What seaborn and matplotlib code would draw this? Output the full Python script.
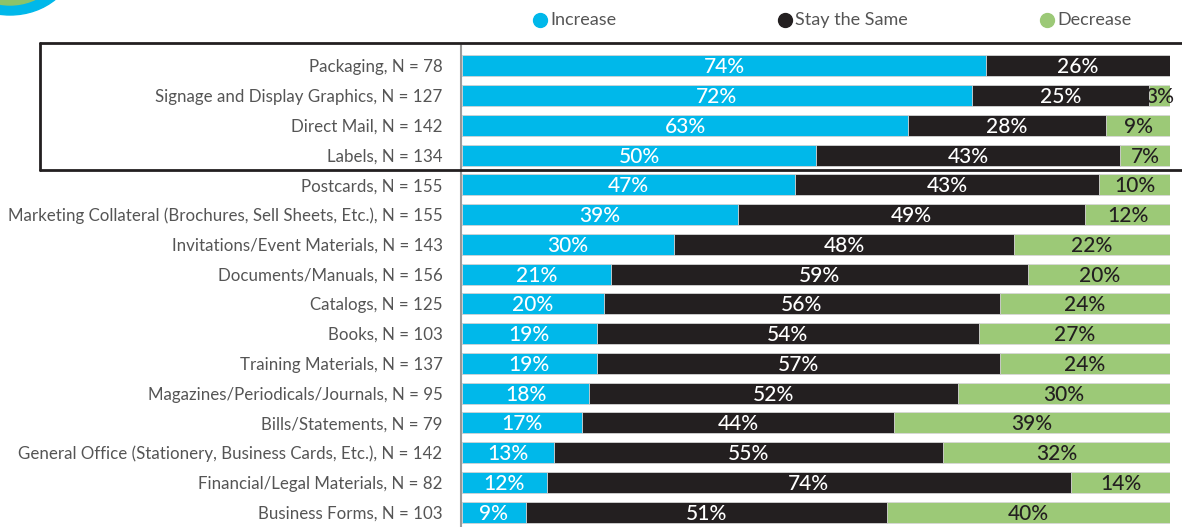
import matplotlib
matplotlib.use("Agg")
import matplotlib.pyplot as plt
from matplotlib import font_manager
from matplotlib.lines import Line2D
from matplotlib.patches import Ellipse
import seaborn as sns
import pandas as pd
import numpy as np

categories = [
    "Packaging, N = 78",
    "Signage and Display Graphics, N = 127",
    "Direct Mail, N = 142",
    "Labels, N = 134",
    "Postcards, N = 155",
    "Marketing Collateral (Brochures, Sell Sheets, Etc.), N = 155",
    "Invitations/Event Materials, N = 143",
    "Documents/Manuals, N = 156",
    "Catalogs, N = 125",
    "Books, N = 103",
    "Training Materials, N = 137",
    "Magazines/Periodicals/Journals, N = 95",
    "Bills/Statements, N = 79",
    "General Office (Stationery, Business Cards, Etc.), N = 142",
    "Financial/Legal Materials, N = 82",
    "Business Forms, N = 103",
]
increase = [74, 72, 63, 50, 47, 39, 30, 21, 20, 19, 19, 18, 17, 13, 12, 9]
stay_same = [26, 25, 28, 43, 43, 49, 48, 59, 56, 54, 57, 52, 44, 55, 74, 51]
decrease = [0, 3, 9, 7, 10, 12, 22, 20, 24, 27, 24, 30, 39, 32, 14, 40]
series_names = ["Increase", "Stay the Same", "Decrease"]

C_INC = "#00B8EA"
C_SAME = "#231F20"
C_DEC = "#9CC977"
C_TXT = "#555555"

sns.set_theme(style="white")
names = {f.name for f in font_manager.fontManager.ttflist}
fam = "Liberation Sans Narrow" if "Liberation Sans Narrow" in names else "Lato"
plt.rcParams["font.family"] = [fam, "DejaVu Sans"]

df = pd.DataFrame({"cat": categories, "inc": increase, "same": stay_same, "dec": decrease})
df["c2"] = df["inc"] + df["same"]
df["c3"] = df["c2"] + df["dec"]

fig = plt.figure(figsize=(11.82, 5.27), dpi=100)
W, H = 1182, 527
ax = fig.add_axes([462 / W, 0, (1170 - 462) / W, (527 - 51) / H])

kw = dict(y="cat", orient="h", width=0.7, edgecolor="#D8D8D8", linewidth=0.6, ax=ax, order=categories)
sns.barplot(data=df, x="c3", color=C_DEC, saturation=1, **kw)
sns.barplot(data=df, x="c2", color=C_SAME, saturation=1, **kw)
sns.barplot(data=df, x="inc", color=C_INC, saturation=1, **kw)

ax.set_xlim(0, 100)
ax.set_ylim(len(categories) - 0.5, -0.5)
ax.set_xlabel("")
ax.set_ylabel("")
ax.set_xticks([])
for s in ax.spines.values():
    s.set_visible(False)
ax.tick_params(axis="y", length=0, pad=14, labelsize=12.2, labelcolor=C_TXT)

pct_kw = dict(ha="center", va="center", fontsize=15, fontweight="medium")
for i, r in df.iterrows():
    if r["inc"] > 0:
        ax.text(r["inc"] / 2, i + 0.05, f"{r['inc']}%", color="white", **pct_kw)
    if r["same"] > 0:
        ax.text(r["inc"] + r["same"] / 2, i + 0.05, f"{r['same']}%", color="white", **pct_kw)
    if r["dec"] > 0:
        ax.text(r["c2"] + r["dec"] / 2, i + 0.05, f"{r['dec']}%", color=C_SAME, **pct_kw)

# vertical axis line
fig.add_artist(Line2D([461 / W, 461 / W], [1 - 45 / H, 0], color="#9A9A9A", lw=1.5))
# highlight box around top 4 rows
bx = 40 / W
ytop = 1 - 43 / H
ybot = 1 - 169.5 / H
fig.add_artist(Line2D([bx, 1], [ytop, ytop], color="#231F20", lw=2))
fig.add_artist(Line2D([bx, 1], [ybot, ybot], color="#231F20", lw=2))
fig.add_artist(Line2D([bx, bx], [ytop, ybot], color="#231F20", lw=2))

# legend
ly = 1 - 20 / H
for xm, name, col in [(540, series_names[0], C_INC), (785, series_names[1], C_SAME), (1047, series_names[2], C_DEC)]:
    fig.add_artist(Line2D([xm / W], [ly], marker="o", markersize=10, color=col, lw=0))
    fig.text((xm + 10) / W, ly, name, ha="left", va="center", color=C_TXT, fontsize=13)

# decorative corner arc
fig.add_artist(Ellipse((10 / W, 1 + 40 / H), 130 / W, 110 / H, color=C_INC, transform=fig.transFigure, clip_on=False))
fig.add_artist(Ellipse((10 / W, 1 + 45 / H), 110 / W, 100 / H, color="#8CC36A", transform=fig.transFigure, clip_on=False))
fig.add_artist(Ellipse((10 / W, 1 + 50 / H), 100 / W, 98 / H, color="white", transform=fig.transFigure, clip_on=False))

fig.savefig("out.png", dpi=100)
